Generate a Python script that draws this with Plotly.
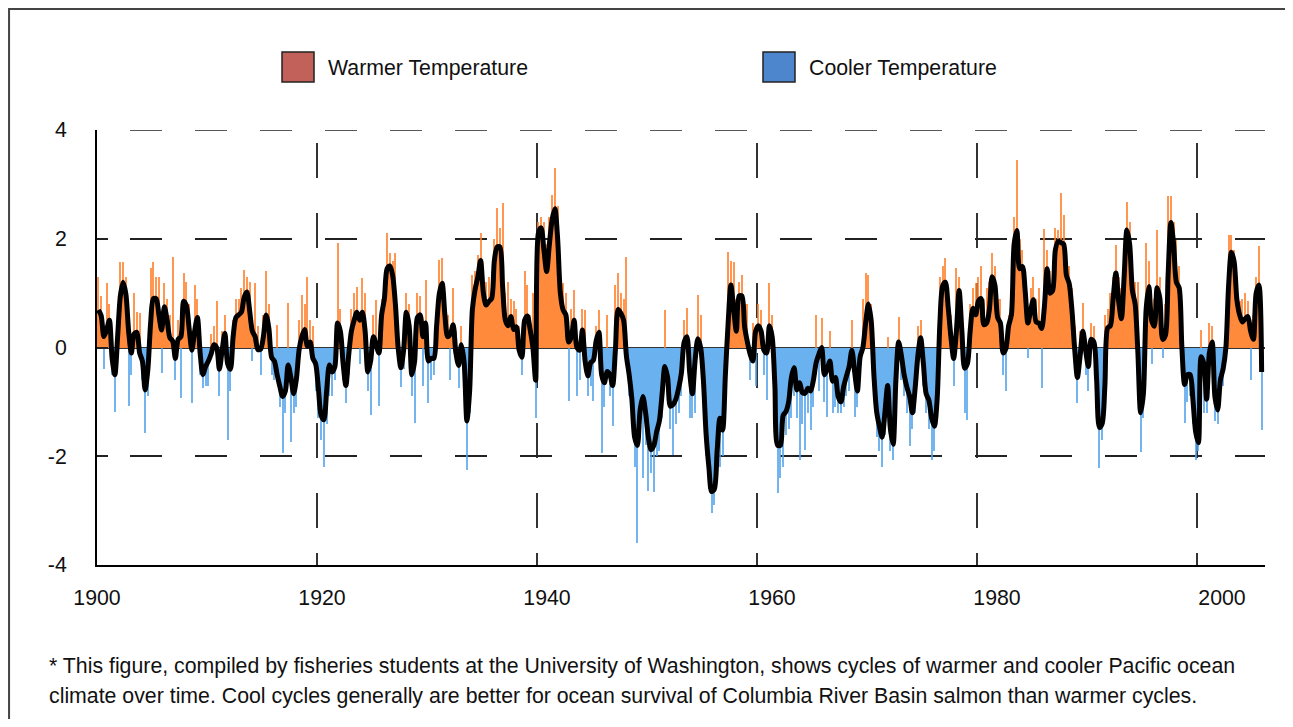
import plotly.graph_objects as go

FIRST_YEAR = 1900

# quarterly smoothed index (black line), 2 years per row
pdo_smooth = [
    0.69, 0.59, 0.20, 0.32, 0.50, -0.20, -0.50, 0.20,
    0.95, 1.20, 0.98, 0.30, -0.10, 0.25, 0.28, -0.10,
    -0.25, -0.78, -0.40, 0.45, 0.90, 0.90, 0.60, 0.32,
    0.75, 0.50, 0.18, 0.12, -0.20, 0.15, 0.20, 0.85,
    0.77, 0.35, -0.05, 0.30, 0.55, -0.10, -0.50, -0.35,
    -0.25, -0.12, 0.05, 0.00, -0.40, -0.05, 0.26, -0.30,
    -0.40, 0.20, 0.55, 0.60, 0.65, 0.92, 1.02, 0.68,
    0.30, 0.20, -0.04, -0.03, 0.20, 0.60, 0.35, -0.18,
    -0.25, -0.50, -0.72, -0.90, -0.80, -0.32, -0.55, -0.85,
    -0.58, -0.04, 0.20, 0.33, 0.02, 0.10, -0.20, -0.30,
    -0.75, -1.25, -1.33, -0.80, -0.32, -0.45, -0.35, 0.45,
    0.30, -0.30, -0.70, -0.15, 0.30, 0.50, 0.65, 0.50,
    0.65, 0.30, -0.45, -0.25, 0.20, 0.05, -0.10, 0.60,
    0.90, 1.45, 1.50, 1.33, 0.80, 0.00, -0.37, -0.05,
    0.65, 0.40, -0.50, -0.25, 0.55, 0.60, 0.20, 0.45,
    -0.25, -0.20, -0.20, 0.40, 1.00, 1.18, 0.60, 0.20,
    0.25, 0.42, -0.10, -0.33, 0.05, -0.27, -1.35, -0.80,
    0.70, 1.07, 1.30, 1.60, 1.00, 0.78, 0.85, 0.90,
    1.60, 1.85, 1.85, 1.12, 0.50, 0.40, 0.57, 0.33,
    0.38, -0.05, -0.18, 0.50, 0.58, 0.33, 0.00, -0.60,
    2.10, 2.20, 1.80, 1.40, 1.90, 2.35, 2.55, 2.00,
    1.00, 0.69, 0.60, 0.10, 0.20, 0.50, 0.00, -0.05,
    0.32, -0.25, -0.52, -0.28, -0.23, 0.12, 0.28, -0.50,
    -0.65, -0.44, -0.50, -0.70, -0.05, 0.70, 0.63, 0.50,
    -0.15, -0.50, -0.95, -1.65, -1.80, -1.15, -0.90, -1.20,
    -1.65, -1.88, -1.80, -1.55, -1.35, -0.85, -0.35, -0.55,
    -1.08, -1.05, -0.95, -0.75, -0.47, 0.10, 0.20, -0.45,
    -0.85, -0.23, 0.16, 0.00, -0.60, -1.60, -2.20, -2.65,
    -2.60, -1.90, -1.30, -1.52, -0.50, 0.45, 1.15, 0.70,
    0.30, 0.95, 0.95, 0.38, 0.10, -0.12, -0.25, 0.30,
    0.40, 0.30, -0.05, -0.10, 0.40, 0.20, -0.70, -1.80,
    -1.80, -1.25, -1.18, -1.00, -0.55, -0.37, -0.78, -0.65,
    -0.83, -0.84, -0.75, -0.80, -0.60, -0.28, -0.12, 0.00,
    -0.50, -0.40, -0.25, -0.62, -0.55, -0.90, -1.00, -0.72,
    -0.53, -0.35, -0.05, -0.45, -0.80, -0.17, 0.00, 0.45,
    0.80, 0.50, -0.50, -1.18, -1.45, -1.65, -1.20, -0.70,
    -1.50, -1.78, -0.60, 0.10, -0.15, -0.50, -0.73, -0.90,
    -1.20, -0.75, -0.15, 0.18, -0.30, -0.85, -0.97, -1.30,
    -1.45, -0.95, 0.45, 1.13, 1.20, 0.75, 0.20, -0.20,
    0.30, 1.05, 0.30, -0.38, -0.30, 0.30, 0.72, 0.60,
    0.85, 0.90, 0.42, 0.45, 0.70, 1.30, 1.15, 0.55,
    0.45, -0.10, -0.02, 0.40, 0.60, 1.90, 2.15, 1.45,
    1.49, 1.05, 0.45, 0.68, 0.88, 0.47, 0.45, 0.35,
    0.75, 1.45, 1.00, 1.05, 1.80, 1.95, 1.93, 1.90,
    1.33, 1.18, 0.70, -0.02, -0.55, -0.15, 0.30, -0.05,
    -0.35, 0.15, 0.10, -0.60, -1.47, -1.40, -0.70, 0.36,
    0.40, 0.90, 1.37, 0.85, 0.53, 1.30, 2.16, 1.90,
    1.05, 0.80, -0.10, -1.20, -0.85, 0.70, 1.12, 0.50,
    0.39, 1.10, 0.90, 0.15, 0.22, 1.35, 2.30, 1.90,
    1.20, 1.10, 0.00, -0.68, -0.50, -0.50, -0.95, -1.55,
    -1.75, -0.17, -0.30, -0.95, -0.10, 0.10, -0.90, -1.15,
    -0.60, -0.39, 0.00, 1.15, 1.75, 1.58, 0.88, 0.60,
    0.47, 0.53, 0.57, 0.30, 0.15, 1.00, 1.15, -0.45,
]

# most extreme monthly value in each quarter (thin spikes)
pdo_peak = [
    1.30, 0.95, -0.40, 1.18, 0.80, -0.50, -1.19, 0.80,
    1.58, 1.58, 1.30, -1.08, -0.50, 1.00, 0.65, 0.63,
    -0.60, -1.57, -0.90, 1.46, 1.58, 1.30, 1.30, -0.47,
    1.18, 0.90, 0.60, 1.67, -0.60, 0.50, -0.93, 1.37,
    1.20, 0.80, -1.02, 1.15, 0.90, -0.50, -0.75, -0.70,
    -0.70, 0.25, 0.40, 0.85, -0.90, 0.30, 0.60, -1.70,
    -0.80, 0.50, 0.90, 0.90, 1.10, 1.43, 1.30, 1.20,
    -0.25, 1.18, 0.40, -0.50, 0.60, 1.40, 0.80, -0.50,
    -0.60, 0.42, -1.10, -1.94, -1.20, 0.81, -1.73, -1.20,
    -1.10, 0.50, 0.97, 0.80, 1.30, 0.50, 0.40, -0.80,
    -1.30, -1.70, -2.19, -1.40, -0.90, -0.90, -0.60, 1.92,
    0.70, -0.60, -1.02, -0.50, 0.70, 1.00, 1.12, -0.30,
    1.27, 1.00, -0.80, -1.24, 0.60, 0.88, -1.08, 0.90,
    1.18, 2.10, 1.73, 1.60, 1.73, 0.40, -0.72, -0.40,
    1.00, 0.80, -0.90, -1.39, 1.00, 0.95, -0.70, 1.24,
    -1.02, -0.60, -0.50, 0.70, 1.61, 1.64, 1.00, 0.60,
    -0.60, 1.10, 0.30, -0.75, 0.40, -0.60, -2.25, -1.20,
    1.34, 1.40, 1.70, 2.10, 1.40, 1.20, 1.30, 1.40,
    2.00, 2.56, 2.20, 2.65, 1.00, 1.20, 0.90, 0.85,
    0.70, 0.40, -0.50, 1.40, 1.15, 0.60, 1.00, -1.30,
    2.30, 2.40, 2.30, 1.90, 2.40, 2.80, 3.30, 2.60,
    1.50, 1.18, 1.00, -0.99, 0.70, 1.06, -0.90, -0.60,
    0.70, 0.69, -0.90, -0.70, -0.99, 0.40, 0.69, -1.94,
    -1.10, 0.60, -0.90, -1.45, 1.15, 1.37, 1.00, 0.90,
    1.67, -0.90, -1.40, -2.20, -3.60, -1.60, -2.40, -1.80,
    -2.63, -2.30, -2.66, -2.00, -1.90, -1.30, 0.69, -1.00,
    -1.50, -1.98, -1.40, -1.20, -0.90, 0.50, 0.72, -1.30,
    -1.30, -1.20, 0.97, 0.60, -1.00, -2.00, -2.60, -3.05,
    -2.90, -2.40, -2.20, -2.00, -1.00, 1.76, 1.60, 1.58,
    0.90, 1.20, 1.34, 0.80, 0.80, -0.60, 0.45, -0.70,
    0.80, 0.69, -0.50, -0.96, 1.18, 0.60, -1.20, -2.68,
    -2.40, -2.20, -1.60, -1.50, -1.30, -0.90, -1.30, -2.06,
    -1.40, -1.88, -1.20, -1.51, -1.10, 0.60, -0.80, 0.55,
    -1.00, -1.27, 0.30, -1.20, -1.10, -1.20, -1.20, -1.10,
    -0.90, -0.80, 0.51, -1.27, -1.10, -0.60, 0.90, 1.37,
    1.34, 0.80, -1.00, -1.64, -1.90, -2.19, -1.60, 0.20,
    -1.90, -2.06, -1.00, 0.57, -0.60, -0.90, -1.20, -1.82,
    -1.50, -1.20, 0.40, 0.50, -0.70, -1.20, -1.50, -2.06,
    -1.90, -1.30, 1.30, 1.50, 1.64, 1.10, 0.60, -0.70,
    1.46, 1.30, 0.60, -1.20, -1.33, 0.80, 1.10, 1.18,
    1.30, 1.49, 0.90, 1.10, 1.20, 1.73, 1.50, 0.90,
    0.90, -0.50, -0.80, 0.60, 1.00, 2.40, 3.45, 2.00,
    1.80, 1.40, -0.20, 1.10, 1.30, 0.90, 1.10, -0.75,
    2.18, 1.80, 1.40, 1.50, 2.20, 2.16, 2.84, 2.44,
    1.80, 1.50, 1.10, 0.40, -1.02, 0.30, 0.81, -0.50,
    -0.80, 0.45, 0.40, -1.00, -2.22, -1.70, 0.60, 0.70,
    1.00, 1.30, 1.89, 1.30, 1.10, 1.70, 2.68, 2.30,
    1.50, 1.20, 1.20, -1.93, -1.30, 1.92, 1.60, -0.30,
    0.90, 2.16, 1.30, -0.20, 0.80, 2.78, 2.78, 2.30,
    1.98, 1.50, -0.50, -1.39, -1.00, -0.90, -1.40, -2.06,
    -1.90, 0.32, -1.20, -1.20, 0.45, 0.40, -1.36, -1.40,
    -0.90, -0.70, 0.40, 2.07, 2.07, 1.80, 1.30, 0.85,
    0.90, 1.00, 0.85, -0.60, 0.60, 1.30, 1.86, -1.51,
]

assert len(pdo_smooth) == len(pdo_peak) == 424

quarter_mid = [FIRST_YEAR + (i + 0.5) / 4 for i in range(len(pdo_smooth))]

y_ticks = [-4, -2, 0, 2, 4]
y_labels = ["-4", "-2", "0", "2", "4"]
x_ticks = [1900, 1920, 1940, 1960, 1980, 2000]

_FONT = "Liberation Sans, Arial, sans-serif"
_TEXT = 21.3
_WARM = "#ff8a3c"
_COOL = "#6ab1f0"
_WARM_SPIKE = "#ff7d26"
_COOL_SPIKE = "#52a3ec"
_WARM_KEY = "#c1615a"
_COOL_KEY = "#4d86cc"
_H_DASH = "0px,33px,32px,0px"

fig = go.Figure()

fig.add_trace(go.Bar(
    x=quarter_mid, y=pdo_peak, width=0.09,
    marker_color=[_WARM_SPIKE if v >= 0 else _COOL_SPIKE for v in pdo_peak],
    marker_line_width=0, opacity=0.8, hoverinfo="skip",
))
fig.add_trace(go.Bar(
    x=quarter_mid, y=pdo_smooth, width=0.25,
    marker_color=[_WARM if v >= 0 else _COOL for v in pdo_smooth],
    marker_line_width=0,
))
fig.add_trace(go.Scatter(
    x=quarter_mid, y=pdo_smooth, mode="lines",
    line={"color": "black", "width": 5, "shape": "spline", "smoothing": 0.8},
))
# carrier for the label axis
fig.add_trace(go.Scatter(x=[1900, 2000], y=[None, None], xaxis="x2",
                         mode="lines", hoverinfo="skip"))

# top grid line (plotly drops the one sitting on the range edge)
fig.add_shape(type="line", xref="paper", yref="y", x0=0, x1=1,
              y0=y_ticks[-1], y1=y_ticks[-1],
              line={"color": "#222", "width": 1.5, "dash": _H_DASH})

# legend keys and caption
for x0, color, label in [(0.1584, _WARM_KEY, "Warmer Temperature"),
                         (0.5702, _COOL_KEY, "Cooler Temperature")]:
    fig.add_shape(type="rect", xref="paper", yref="paper",
                  x0=x0, x1=x0 + 0.0274, y0=1.1103, y1=1.1793,
                  fillcolor=color, line={"color": "#222", "width": 1.5})
    fig.add_annotation(text=label, xref="paper", yref="paper",
                       x=x0 + 0.0377, y=1.1425, xanchor="left", yanchor="middle",
                       showarrow=False, font={"size": _TEXT, "color": "#111"})

fig.add_annotation(
    text="* This figure, compiled by fisheries students at the University of Washington, "
         "shows cycles of warmer and cooler Pacific ocean",
    xref="paper", yref="paper", x=-0.0428, y=-0.2322, xanchor="left", yanchor="middle",
    showarrow=False, font={"size": _TEXT, "color": "#111"})
fig.add_annotation(
    text="climate over time. Cool cycles generally are better for ocean survival of "
         "Columbia River Basin salmon than warmer cycles.",
    xref="paper", yref="paper", x=-0.0428, y=-0.3011, xanchor="left", yanchor="middle",
    showarrow=False, font={"size": _TEXT, "color": "#111"})

# outer frame (right and bottom edges fall outside the page)
fig.add_shape(type="rect", xref="paper", yref="paper",
              x0=-0.0753, x1=1.2, y0=-0.6, y1=1.2782,
              line={"color": "#444", "width": 2}, layer="below")

fig.update_layout(
    template="none",
    width=1277, height=711,
    margin={"l": 89, "r": 20, "t": 122, "b": 154},
    paper_bgcolor="white", plot_bgcolor="white",
    font={"family": _FONT, "size": _TEXT, "color": "#111"},
    barmode="overlay", bargap=0,
    showlegend=False,
    xaxis={
        "range": [1900, 2006.18], "tickvals": x_ticks, "showticklabels": False,
        "ticks": "inside", "ticklen": 12, "tickwidth": 2, "tickcolor": "#333",
        "showgrid": True, "gridcolor": "#333", "gridwidth": 1.5,
        "griddash": "0px,13px,35px,22px",
        "showline": True, "linecolor": "black", "linewidth": 2,
        "zeroline": False,
    },
    xaxis2={
        "overlaying": "x", "anchor": "y", "side": "bottom",
        "range": [1900, 1900 + 1168 / 11.25], "tickvals": x_ticks,
        "ticks": "", "showgrid": False, "showline": False, "zeroline": False,
        "tickfont": {"size": _TEXT, "color": "#111"}, "ticklabelstandoff": 18,
    },
    yaxis={
        "range": [-4, 4], "tickvals": y_ticks, "ticktext": y_labels,
        "ticks": "inside", "ticklen": 11, "tickwidth": 2, "tickcolor": "#222",
        "showgrid": True, "gridcolor": "#222", "gridwidth": 1.5,
        "griddash": _H_DASH,
        "zeroline": True, "zerolinecolor": "#333", "zerolinewidth": 2,
        "showline": True, "linecolor": "black", "linewidth": 2,
        "tickfont": {"size": _TEXT, "color": "#111"}, "ticklabelstandoff": 24,
    },
)

fig.write_html("out.html")
